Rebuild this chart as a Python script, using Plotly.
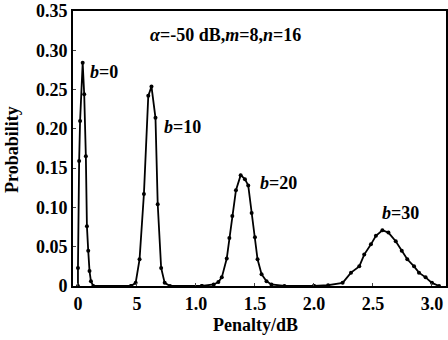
import plotly.graph_objects as go

# Data
b0_x = [0.0, 0.0, 0.010, 0.018, 0.040, 0.053, 0.067, 0.076, 0.087, 0.098, 0.110, 0.130, 0.45]
b0_y = [0.0, 0.023, 0.159, 0.210, 0.284, 0.244, 0.165, 0.076, 0.045, 0.019, 0.006, 0.0, 0.0]

b10_x = [0.45, 0.489, 0.522, 0.559, 0.596, 0.623, 0.657, 0.676, 0.705, 0.735, 0.78, 1.05]
b10_y = [0.0, 0.004, 0.034, 0.117, 0.242, 0.254, 0.214, 0.104, 0.023, 0.004, 0.0, 0.0]

b20_x = [1.05, 1.15, 1.19, 1.219, 1.261, 1.283, 1.308, 1.339, 1.379, 1.415, 1.443,
         1.472, 1.50, 1.522, 1.556, 1.598, 1.64, 1.75, 2.0]
b20_y = [0.0, 0.002, 0.005, 0.011, 0.035, 0.061, 0.089, 0.122, 0.141, 0.136, 0.128,
         0.093, 0.062, 0.034, 0.015, 0.006, 0.002, 0.0, 0.0]

b30_x = [2.0, 2.12, 2.243, 2.314, 2.384, 2.426, 2.483, 2.525, 2.58, 2.631, 2.693,
         2.744, 2.791, 2.848, 2.89, 2.946, 3.0, 3.06]
b30_y = [0.0, 0.001, 0.004, 0.017, 0.025, 0.040, 0.053, 0.064, 0.071, 0.068, 0.057,
         0.045, 0.034, 0.025, 0.017, 0.011, 0.004, 0.0]

x_tick_vals = [0, 0.5, 1.0, 1.5, 2.0, 2.5, 3.0]
x_tick_text = ["0", "5", "1.0", "1.5", "2.0", "2.5", "3.0"]
y_tick_vals = [0, 0.05, 0.10, 0.15, 0.20, 0.25, 0.30, 0.35]
y_tick_text = ["0", "0.05", "0.10", "0.15", "0.20", "0.25", "0.30", "0.35"]

series = [(b0_x, b0_y), (b10_x, b10_y), (b20_x, b20_y), (b30_x, b30_y)]
labels = [("0", 0.085, 0.272), ("10", 0.71, 0.202), ("20", 1.525, 0.131), ("30", 2.56, 0.093)]

FONT = "Liberation Serif"
FS = 18

W, H = 448, 340
ML, MR, MT, MB = 73, 2, 11, 54
pw, ph = W - ML - MR, H - MT - MB

fig = go.Figure()
for xs, ys in series:
    fig.add_trace(go.Scatter(
        x=xs, y=ys, mode="lines+markers",
        line=dict(color="black", width=1.8),
        marker=dict(color="black", size=4),
        showlegend=False, hoverinfo="skip"))

for txt, lx, ly in labels:
    fig.add_annotation(x=lx, y=ly, xref="x", yref="y", showarrow=False,
                       xanchor="left", yanchor="middle",
                       text="<i>b</i>=" + txt,
                       font=dict(family=FONT, size=FS, color="black", weight="bold"))

fig.add_annotation(x=0.593, y=0.319, xref="x", yref="y", showarrow=False,
                   xanchor="left", yanchor="middle",
                   text="<i>α</i>=-50 dB,<i>m</i>=8,<i>n</i>=16",
                   font=dict(family=FONT, size=FS, color="black", weight="bold"))

# axis titles
fig.add_annotation(x=(255 - ML) / pw, y=-(325 - (H - MB)) / ph, xref="x domain", yref="y domain",
                   showarrow=False, xanchor="center", yanchor="middle",
                   text="Penalty/dB", font=dict(family=FONT, size=FS, color="black", weight="bold"))
fig.add_annotation(x=-(ML - 12) / pw, y=((H - MB) - 150) / ph, xref="x domain", yref="y domain",
                   showarrow=False, xanchor="center", yanchor="middle", textangle=-90,
                   text="Probability", font=dict(family=FONT, size=FS, color="black", weight="bold"))

fig.update_layout(
    width=W, height=H,
    margin=dict(l=ML, r=MR, t=MT, b=MB, autoexpand=False),
    paper_bgcolor="white", plot_bgcolor="white",
    font=dict(family=FONT, size=FS, color="black", weight="bold"),
    xaxis=dict(range=[-0.042, 3.119], tickvals=x_tick_vals, ticktext=x_tick_text,
               showgrid=False, zeroline=False, showline=True, linecolor="black",
               linewidth=2, mirror=True, ticks="inside", ticklen=3, automargin=False,
               tickfont=dict(family=FONT, size=FS, weight="bold")),
    yaxis=dict(range=[0, 0.35], tickvals=y_tick_vals, ticktext=y_tick_text,
               showgrid=False, zeroline=False, showline=True, linecolor="black",
               linewidth=2, mirror=True, ticks="inside", ticklen=3, automargin=False,
               tickfont=dict(family=FONT, size=FS, weight="bold")),
)

fig.write_html("out.html", config={"displayModeBar": False},
               post_script="document.body.style.margin='0';")
